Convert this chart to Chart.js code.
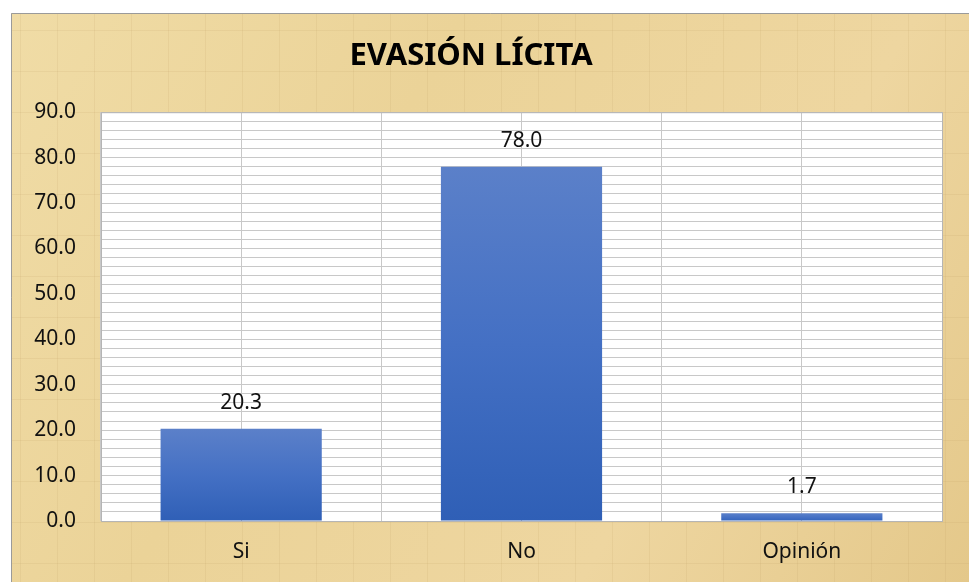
<!DOCTYPE html>
<html>
<head>
<meta charset="utf-8">
<script src="https://cdn.jsdelivr.net/npm/chart.js@4"></script>
<style>
  html, body { margin: 0; padding: 0; background: #ffffff; }
  #wrap { width: 969px; height: 582px; position: relative; }
</style>
</head>
<body>
<div id="wrap"><canvas id="chart"></canvas></div>
<script>
// Datos del gráfico
const categories = ['Si', 'No', 'Opinión'];
const values = [20.3, 78.0, 1.7];
const chartTitle = 'EVASIÓN LÍCITA';
const yMax = 90;
const yLabelStep = 10;
const yGridStep = 2;

const FONT = "'Noto Sans', 'DejaVu Sans', sans-serif";

// Fondo tipo pergamino + área de trazado blanca
const backgroundPlugin = {
  id: 'backgroundPlugin',
  beforeDraw(chart) {
    const { ctx, width, height, chartArea } = chart;
    ctx.save();
    ctx.fillStyle = '#ffffff';
    ctx.fillRect(0, 0, width, height);

    const g = ctx.createLinearGradient(11, 13, width, height);
    g.addColorStop(0, '#f0dca6');
    g.addColorStop(0.35, '#ebd398');
    g.addColorStop(0.7, '#eed6a0');
    g.addColorStop(1, '#e4c88a');
    ctx.fillStyle = g;
    ctx.fillRect(11, 13, width - 11, height - 13);

    // vetas suaves
    ctx.globalAlpha = 0.12;
    ctx.strokeStyle = '#b8955a';
    ctx.lineWidth = 1;
    for (let x = 20; x < width; x += 37) {
      ctx.beginPath();
      ctx.moveTo(x + 0.5, 13);
      ctx.lineTo(x + 0.5, height);
      ctx.stroke();
    }
    for (let y = 30; y < height; y += 41) {
      ctx.beginPath();
      ctx.moveTo(11, y + 0.5);
      ctx.lineTo(width, y + 0.5);
      ctx.stroke();
    }
    ctx.globalAlpha = 1;

    ctx.strokeStyle = '#9a9a9a';
    ctx.lineWidth = 1;
    ctx.beginPath();
    ctx.moveTo(11.5, height);
    ctx.lineTo(11.5, 13.5);
    ctx.lineTo(width, 13.5);
    ctx.stroke();

    ctx.fillStyle = '#ffffff';
    ctx.fillRect(chartArea.left, chartArea.top,
      chartArea.right - chartArea.left, chartArea.bottom - chartArea.top);
    ctx.restore();
  },
  afterDraw(chart) {
    const { ctx, chartArea: { top, bottom, left, right } } = chart;
    ctx.save();
    ctx.strokeStyle = '#b5b5b5';
    ctx.lineWidth = 1;
    ctx.strokeRect(left + 0.5, top + 0.5, right - left, bottom - top);
    ctx.restore();
  },
};

// Etiquetas de valor encima de las barras
const valueLabels = {
  id: 'valueLabels',
  afterDatasetsDraw(chart) {
    const { ctx } = chart;
    const meta = chart.getDatasetMeta(0);
    ctx.save();
    ctx.fillStyle = '#111111';
    ctx.font = `21px ${FONT}`;
    ctx.textAlign = 'center';
    ctx.textBaseline = 'middle';
    meta.data.forEach((bar, i) => {
      ctx.fillText(values[i].toFixed(1), bar.x, bar.y - 26);
    });
    ctx.restore();
  },
};

function barColor(context) {
  const chart = context.chart;
  const { ctx, chartArea, scales } = chart;
  if (!chartArea || !scales.y) return '#4472c4';
  const v = values[context.dataIndex];
  const top = scales.y.getPixelForValue(v);
  const bottom = scales.y.getPixelForValue(0);
  const g = ctx.createLinearGradient(0, top, 0, bottom + 1);
  g.addColorStop(0, '#5b80c9');
  g.addColorStop(0.5, '#4470c4');
  g.addColorStop(1, '#2f5fb6');
  return g;
}

const tickFont = { family: FONT, size: 21 };

new Chart(document.getElementById('chart'), {
  type: 'bar',
  data: {
    labels: categories,
    datasets: [
      {
        data: values,
        backgroundColor: barColor,
        borderWidth: 0,
        barPercentage: 0.575,
        categoryPercentage: 1,
        xAxisID: 'x',
      },
    ],
  },
  options: {
    responsive: true,
    maintainAspectRatio: false,
    animation: false,
    layout: { padding: { left: 0, right: 27, top: 0, bottom: 0 } },
    plugins: {
      legend: { display: false },
      tooltip: { enabled: false },
      title: {
        display: true,
        text: chartTitle,
        color: '#000000',
        font: { family: FONT, size: 31, weight: 'bold' },
        padding: { top: 38, bottom: 37 },
      },
    },
    scales: {
      x: {
        offset: true,
        grid: { offset: true, color: '#c8c8c8', drawTicks: false },
        border: { display: false },
        ticks: { color: '#111111', font: tickFont, padding: 18 },
        afterFit(scale) { scale.height = 61; },
      },
      x2: {
        type: 'category',
        labels: categories,
        position: 'bottom',
        offset: true,
        grid: { offset: false, color: '#c8c8c8', drawTicks: false },
        border: { display: false },
        ticks: { display: false },
        afterFit(scale) { scale.height = 0; },
      },
      y: {
        min: 0,
        max: yMax,
        grid: { color: '#c8c8c8', drawTicks: false },
        border: { display: false },
        ticks: {
          stepSize: yGridStep,
          autoSkip: false,
          color: '#111111',
          font: tickFont,
          padding: 25,
          callback: (v) => (v % yLabelStep === 0 ? v.toFixed(1) : ''),
        },
        afterFit(scale) { scale.width = 101; },
      },
    },
  },
  plugins: [backgroundPlugin, valueLabels],
});
</script>
</body>
</html>
